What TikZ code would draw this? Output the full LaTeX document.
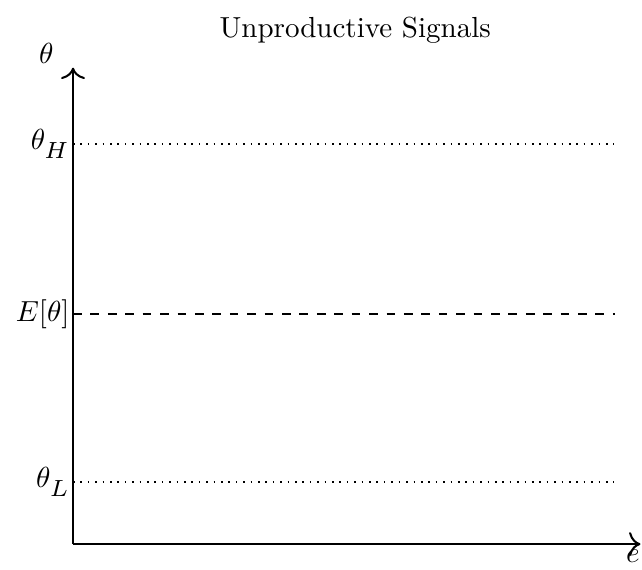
\documentclass[tikz,border=0pt]{standalone}
\usetikzlibrary{arrows.meta}
\newcommand\lowsub[1]{\raisebox{-1.6pt}{\scalebox{1.15}{$\scriptstyle #1$}}}

\begin{document}
\begin{tikzpicture}[x=0.926cm,y=0.926cm]
\useasboundingbox (-0.955,-0.327) rectangle (7.44,7.115);
\tikzset{level/.style={line width=0.55pt},
  axis/.style={-{To[scale=1.25]}, line width=0.7pt}}
\coordinate (o) at (0,0);
\coordinate (ytop) at (0,6.23);
\coordinate (xend) at (7.42,0);
\draw[axis] (o) -- (ytop);
\draw[axis] (o) -- (xend);
\node (thetalab) at (-0.35,6.42) {$\theta$};
\node (elab) at (7.32,-0.16) {$e$};
\node (title) at (3.69,6.72) {Unproductive Signals};
\coordinate (h0) at (0,5.23);
\coordinate (h1) at (7.07,5.23);
\draw[level, dotted] (h0) -- (h1);
\node[left, inner sep=1pt] (thetaH) at (h0) {$\theta_{\lowsub{H}}$};
\coordinate (m0) at (0,3.01);
\coordinate (m1) at (7.09,3.01);
\draw[level, dashed] (m0) -- (m1);
\node[left, inner sep=1pt] (Etheta) at (m0) {$E[\theta]$};
\coordinate (l0) at (0,0.81);
\coordinate (l1) at (7.07,0.81);
\draw[level, dotted] (l0) -- (l1);
\node[left, inner sep=1pt] (thetaL) at (l0) {$\theta_{\lowsub{L}}$};
\end{tikzpicture}
\end{document}
